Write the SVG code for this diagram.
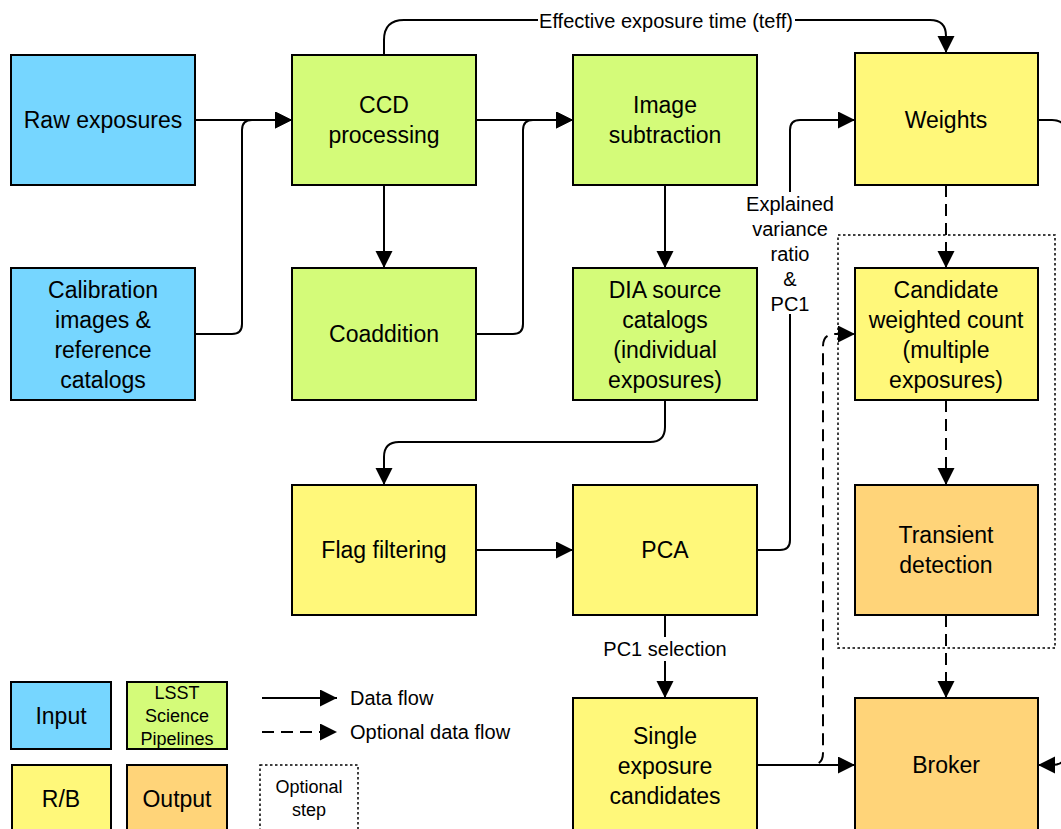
<svg xmlns="http://www.w3.org/2000/svg" width="1061" height="829" viewBox="0 0 1061 829">
<style>
.box{stroke:#000;stroke-width:2}
.in{fill:#76D6FF}.ls{fill:#D4FB79}.rb{fill:#FFF87A}.out{fill:#FFD479}
.t{font-family:"Liberation Sans",Arial,sans-serif;font-size:23px;fill:#000;text-anchor:middle}
.s{font-family:"Liberation Sans",Arial,sans-serif;font-size:18px;fill:#000;text-anchor:middle}
.l{font-family:"Liberation Sans",Arial,sans-serif;font-size:20px;fill:#000;text-anchor:middle}
.lg{font-family:"Liberation Sans",Arial,sans-serif;font-size:20px;fill:#000}
.c{fill:none;stroke:#000;stroke-width:2}
.d{stroke-dasharray:12 7}
.opt{fill:none;stroke:#000;stroke-width:1.5;stroke-dasharray:2.5 2.5}
</style>
<defs>
<marker id="a" markerUnits="userSpaceOnUse" markerWidth="18" markerHeight="18" refX="17" refY="8.5" orient="auto">
<path d="M0,0 L17,8.5 L0,17 z" fill="#000"/>
</marker>
</defs>
<rect width="1061" height="829" fill="#fff"/>
<rect id="optional-box" class="opt" x="838" y="235" width="217" height="413"/>
<g id="connectors">
<path class="c" d="M195,120 L292,120" marker-end="url(#a)"/>
<path class="c" d="M195,334 L232,334 Q242,334 242,324 L242,130 Q242,120 252,120 L292,120" marker-end="url(#a)"/>
<path class="c" d="M384,185 L384,268" marker-end="url(#a)"/>
<path class="c" d="M476,120 L573,120" marker-end="url(#a)"/>
<path class="c" d="M476,334 L513,334 Q523,334 523,324 L523,130 Q523,120 533,120 L573,120" marker-end="url(#a)"/>
<path class="c" d="M665,185 L665,268" marker-end="url(#a)"/>
<path class="c" d="M665,400 L665,427 Q665,442 650,442 L399,442 Q384,442 384,457 L384,485" marker-end="url(#a)"/>
<path class="c" d="M476,550 L573,550" marker-end="url(#a)"/>
<path class="c" d="M757,550 L780,550 Q790,550 790,540 L790,130 Q790,120 800,120 L855,120" marker-end="url(#a)"/>
<path class="c" d="M384,55 L384,40 Q384,20 404,20 L930,20 Q946,20 946,36 L946,53" marker-end="url(#a)"/>
<path class="c d" d="M946,185 L946,268" marker-end="url(#a)"/>
<path class="c d" d="M946,400 L946,485" marker-end="url(#a)"/>
<path class="c d" d="M946,615 L946,698" marker-end="url(#a)"/>
<path class="c" d="M665,615 L665,698" marker-end="url(#a)"/>
<path class="c" d="M757,765 L855,765" marker-end="url(#a)"/>
<path class="c d" d="M800,765 L811,765 Q823,765 823,753 L823,346 Q823,334 835,334 L855,334" marker-end="url(#a)"/>
<path class="c" d="M1038,120 L1052,120 Q1066,120 1066,134 L1066,751 Q1066,765 1052,765 L1038,765" marker-end="url(#a)"/>
<rect x="538" y="9" width="257" height="24" fill="#fff"/>
<text class="l" x="666" y="28">Effective exposure time (teff)</text>
<rect x="745" y="192" width="90" height="122" fill="#fff"/>
<text class="l" x="790" y="211">Explained</text>
<text class="l" x="790" y="236">variance</text>
<text class="l" x="790" y="261">ratio</text>
<text class="l" x="790" y="286">&amp;</text>
<text class="l" x="790" y="311">PC1</text>
<rect x="600" y="637" width="130" height="24" fill="#fff"/>
<text class="l" x="665" y="656">PC1 selection</text>
</g>
<g id="raw-exposures"><rect class="box in" x="11" y="55" width="184" height="130"/><text class="t" x="103" y="128">Raw exposures</text></g>
<g id="calibration"><rect class="box in" x="11" y="268" width="184" height="132"/><text class="t" x="103" y="298">Calibration</text><text class="t" x="103" y="328">images &amp;</text><text class="t" x="103" y="358">reference</text><text class="t" x="103" y="388">catalogs</text></g>
<g id="ccd-processing"><rect class="box ls" x="292" y="55" width="184" height="130"/><text class="t" x="384" y="113">CCD</text><text class="t" x="384" y="143">processing</text></g>
<g id="coaddition"><rect class="box ls" x="292" y="268" width="184" height="132"/><text class="t" x="384" y="342">Coaddition</text></g>
<g id="image-subtraction"><rect class="box ls" x="573" y="55" width="184" height="130"/><text class="t" x="665" y="113">Image</text><text class="t" x="665" y="143">subtraction</text></g>
<g id="dia-source"><rect class="box ls" x="573" y="268" width="184" height="132"/><text class="t" x="665" y="298">DIA source</text><text class="t" x="665" y="328">catalogs</text><text class="t" x="665" y="358">(individual</text><text class="t" x="665" y="388">exposures)</text></g>
<g id="weights"><rect class="box rb" x="855" y="53" width="183" height="132"/><text class="t" x="946" y="128">Weights</text></g>
<g id="candidate-count"><rect class="box rb" x="855" y="268" width="183" height="132"/><text class="t" x="946" y="298">Candidate</text><text class="t" x="946" y="328">weighted count</text><text class="t" x="946" y="358">(multiple</text><text class="t" x="946" y="388">exposures)</text></g>
<g id="flag-filtering"><rect class="box rb" x="292" y="485" width="184" height="130"/><text class="t" x="384" y="558">Flag filtering</text></g>
<g id="pca"><rect class="box rb" x="573" y="485" width="184" height="130"/><text class="t" x="665" y="558">PCA</text></g>
<g id="transient-detection"><rect class="box out" x="855" y="485" width="183" height="130"/><text class="t" x="946" y="543">Transient</text><text class="t" x="946" y="573">detection</text></g>
<g id="single-exposure"><rect class="box rb" x="573" y="698" width="184" height="140"/><text class="t" x="665" y="744">Single</text><text class="t" x="665" y="774">exposure</text><text class="t" x="665" y="804">candidates</text></g>
<g id="broker"><rect class="box out" x="855" y="698" width="183" height="140"/><text class="t" x="946" y="773">Broker</text></g>
<g id="legend">
<rect class="box in" x="11" y="682" width="100" height="67"/><text class="t" x="61" y="724">Input</text>
<rect class="box ls" x="127" y="682" width="100" height="67"/><text class="s" x="177" y="699">LSST</text><text class="s" x="177" y="722">Science</text><text class="s" x="177" y="745">Pipelines</text>
<rect class="box rb" x="12" y="765" width="99" height="80"/><text class="t" x="61" y="807">R/B</text>
<rect class="box out" x="127" y="765" width="100" height="80"/><text class="t" x="177" y="807">Output</text>
<path class="c" d="M262,698 L337,698" marker-end="url(#a)"/><text class="lg" x="350" y="705">Data flow</text>
<path class="c d" d="M262,732 L337,732" marker-end="url(#a)"/><text class="lg" x="350" y="739">Optional data flow</text>
<rect class="opt" x="260" y="765" width="98" height="80"/><text class="s" x="309" y="793">Optional</text><text class="s" x="309" y="816">step</text>
</g>
</svg>
